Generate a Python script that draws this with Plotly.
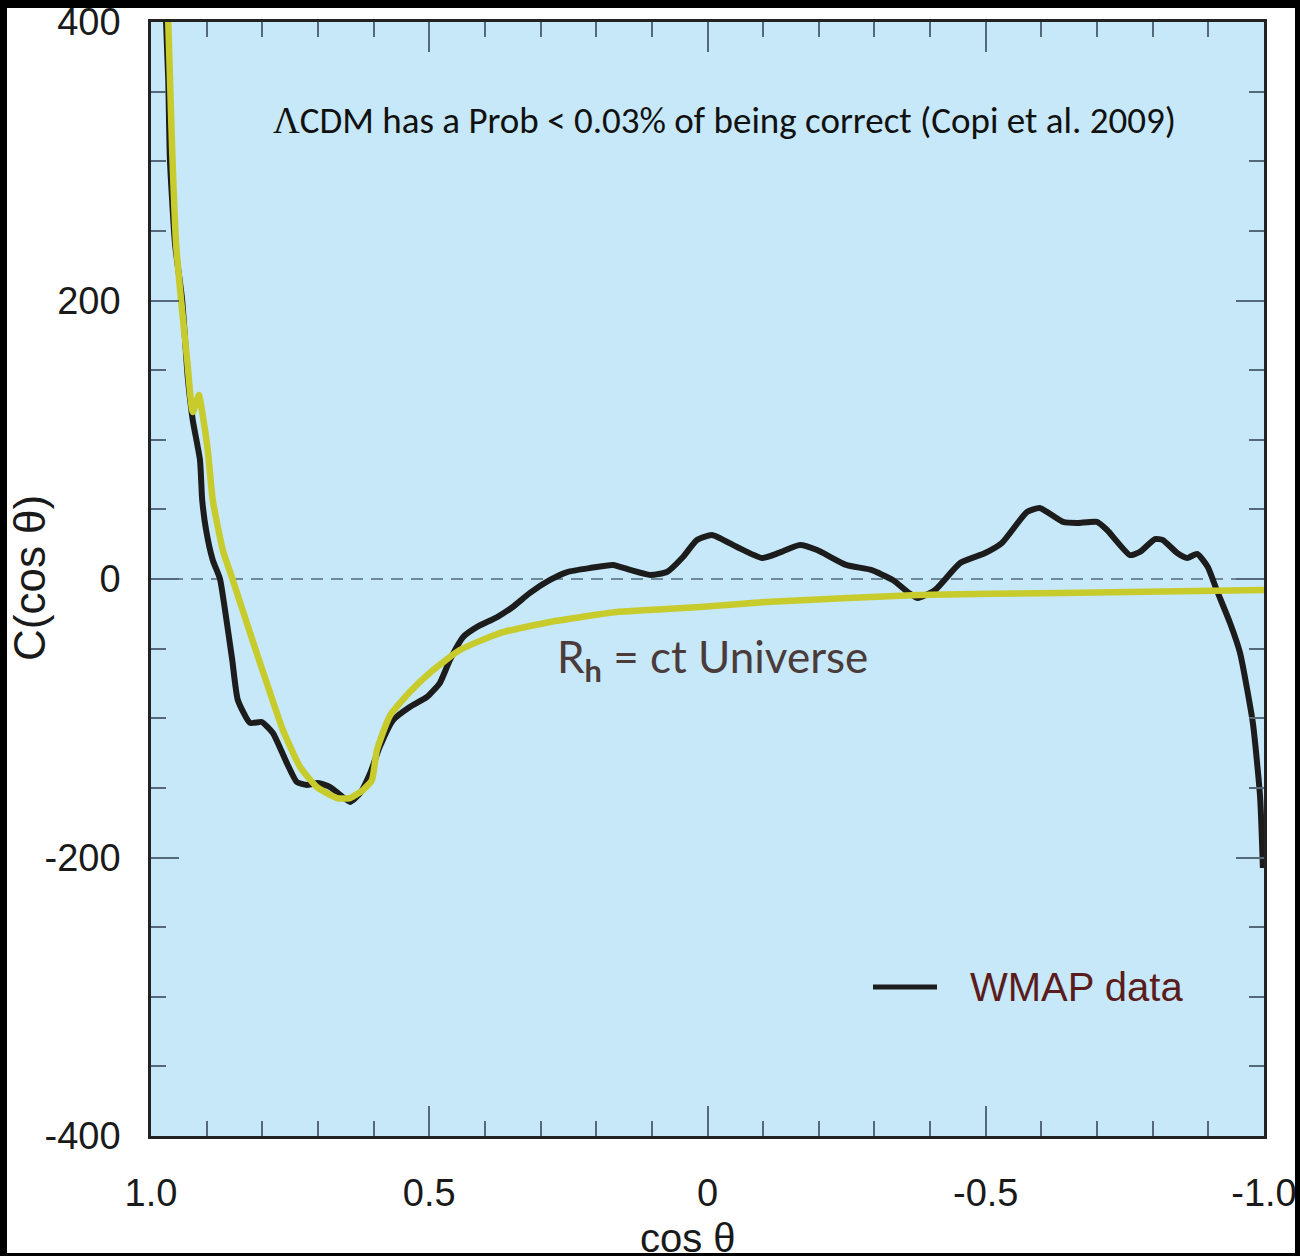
import plotly.graph_objects as go

# ---- data ----
wmap_cos = [0.973, 0.969, 0.966, 0.957, 0.944, 0.934, 0.925, 0.912, 0.908, 0.901,
            0.889, 0.876, 0.867, 0.854, 0.844, 0.822, 0.801, 0.781, 0.756, 0.738,
            0.720, 0.700, 0.678, 0.660, 0.642, 0.624, 0.606, 0.589, 0.565, 0.535,
            0.504, 0.481, 0.463, 0.439, 0.414, 0.378, 0.350, 0.319, 0.283, 0.252,
            0.211, 0.170, 0.139, 0.103, 0.073, 0.044, 0.019, -0.008, -0.053, -0.098,
            -0.128, -0.166, -0.197, -0.249, -0.294, -0.333, -0.362, -0.378, -0.409, -0.454,
            -0.499, -0.529, -0.574, -0.597, -0.639, -0.664, -0.700, -0.718, -0.759, -0.777,
            -0.804, -0.818, -0.844, -0.862, -0.880, -0.899, -0.915, -0.939, -0.957, -0.980,
            -0.993, -0.998]
wmap_c = [400.0, 358.3, 300.9, 241.3, 200.4, 145.1, 114.2, 85.5, 56.7, 35.2,
          13.6, 0.0, -22.3, -58.2, -86.9, -103.4, -102.7, -110.6, -132.1, -145.8,
          -147.9, -146.5, -149.4, -155.1, -160.1, -153.7, -139.3, -120.6, -101.3, -91.9,
          -84.7, -74.7, -58.2, -41.6, -34.4, -27.3, -20.1, -10.0, -0.7, 5.0,
          7.9, 10.1, 6.5, 2.9, 5.0, 15.8, 28.0, 31.6, 23.0, 15.1,
          18.7, 24.4, 20.8, 10.1, 6.5, -0.7, -10.0, -13.6, -7.9, 11.5,
          18.7, 25.9, 48.1, 51.0, 41.0, 40.2, 41.0, 35.2, 17.2, 19.4,
          28.7, 28.0, 18.7, 15.1, 18.0, 8.6, -7.9, -31.6, -53.1, -103.4,
          -156.5, -207.5]

rh_cos = [0.969, 0.962, 0.955, 0.946, 0.935, 0.925, 0.914, 0.908, 0.898, 0.889,
          0.871, 0.853, 0.822, 0.792, 0.763, 0.732, 0.702, 0.666, 0.642, 0.619,
          0.603, 0.594, 0.571, 0.535, 0.493, 0.445, 0.373, 0.283, 0.163, 0.014,
          -0.105, -0.378, -0.635, -1.000]
rh_c = [400.0, 308.1, 241.3, 200.4, 157.3, 119.9, 132.1, 119.9, 92.6, 56.7,
        20.8, -0.7, -38.8, -74.7, -108.4, -135.0, -149.4, -157.3, -157.3, -151.5,
        -144.4, -122.8, -98.4, -81.1, -65.4, -51.0, -38.8, -30.9, -23.7, -20.1,
        -16.5, -11.5, -10.0, -7.9]

x_tickvals = [1.0, 0.5, 0.0, -0.5, -1.0]
x_ticktext = ["1.0", "0.5", "0", "-0.5", "-1.0"]
y_tickvals = [-400, -200, 0, 200, 400]
y_ticktext = ["-400", "-200", "0", "200", "400"]

title_text = ("<span style='font-family:Liberation Serif'>Λ</span>"
              "CDM has a Prob &lt; 0.03% of being correct (Copi et al. 2009)")
model_text = "R<sub><b>h</b></sub> = ct Universe"
legend_text = "WMAP data"

# ---- figure ----
W, H = 1300, 1256
L, R, T, B = 151, 36, 22, 120
pw, ph = W - L - R, H - T - B


def px(xp):
    return (xp - L) / pw


def py(yp):
    return (H - B - yp) / ph


TICKC = "#56697a"
fig = go.Figure()
fig.add_trace(go.Scatter(x=wmap_cos, y=wmap_c, mode="lines", name="WMAP data",
                         line=dict(color="#1c1c1c", width=6, shape="spline", smoothing=0.5),
                         showlegend=False, hoverinfo="skip"))
fig.add_trace(go.Scatter(x=rh_cos, y=rh_c, mode="lines", name="R_h = ct Universe",
                         line=dict(color="#c8cb2c", width=6.5, shape="spline", smoothing=0.5),
                         showlegend=False, hoverinfo="skip"))

fig.update_layout(
    width=W, height=H,
    margin=dict(l=L, r=R, t=T, b=B, pad=0, autoexpand=False),
    paper_bgcolor="white",
    plot_bgcolor="#c6e8f8",
    font=dict(family="Liberation Sans, Arial, sans-serif", color="#1a1a1a"),
    xaxis=dict(range=[1.0, -1.0], tickvals=x_tickvals, ticktext=x_ticktext,
               automargin=False,
               ticks="inside", ticklen=30, tickwidth=1.5, tickcolor=TICKC,
               minor=dict(dtick=0.1, tick0=0, ticks="inside", ticklen=15,
                          tickwidth=1.5, tickcolor=TICKC, showgrid=False),
               showline=True, linecolor="#222222", linewidth=2.5, mirror="ticks",
               showgrid=False, zeroline=False,
               tickfont=dict(size=38, color="#1a1a1a"), ticklabelstandoff=22),
    yaxis=dict(range=[-400, 400], tickvals=y_tickvals, ticktext=y_ticktext,
               automargin=False,
               ticks="inside", ticklen=28, tickwidth=1.5, tickcolor=TICKC,
               minor=dict(dtick=50, tick0=0, ticks="inside", ticklen=15,
                          tickwidth=1.5, tickcolor=TICKC, showgrid=False),
               showline=True, linecolor="#222222", linewidth=2.5, mirror="ticks",
               showgrid=False, zeroline=False,
               tickfont=dict(size=38, color="#1a1a1a"), ticklabelstandoff=20),
)

# dashed zero reference line
fig.add_shape(type="line", xref="x", yref="y", x0=1.0, x1=-1.0, y0=0, y1=0,
              line=dict(color="#6f899b", width=2, dash="12px,8px"), layer="below")

# manual legend sample
fig.add_shape(type="line", xref="paper", yref="paper",
              x0=px(873), x1=px(937), y0=py(987), y1=py(987),
              line=dict(color="#1c1c1c", width=5))

annos = [
    dict(text=title_text, x=px(724), y=py(120), xanchor="center", yanchor="middle",
         font=dict(family="Carlito, Calibri, Lato, sans-serif", size=37, color="#111111")),
    dict(text=model_text, x=px(555), y=py(660), xanchor="left", yanchor="middle",
         font=dict(family="Lato, sans-serif", size=44, color="#4b3b3b")),
    dict(text=legend_text, x=px(968), y=py(987), xanchor="left", yanchor="middle",
         font=dict(family="Liberation Sans, Arial, sans-serif", size=40, color="#5a1c1c")),
    dict(text="C(cos θ)", x=px(29), y=py(578), xanchor="center", yanchor="middle",
         textangle=-90,
         font=dict(family="Liberation Sans Narrow, Liberation Sans, Arial, sans-serif",
                   size=44, color="#1a1a1a")),
    dict(text="cos θ", x=px(688), y=py(1214), xanchor="center", yanchor="top",
         font=dict(family="Liberation Sans, Arial, sans-serif", size=40, color="#1a1a1a")),
]
for a in annos:
    fig.add_annotation(xref="paper", yref="paper", showarrow=False, **a)

# black outer frame of the picture
for (x0, x1, y0, y1) in [(-0.3, px(7), -0.3, 1.3),
                         (px(1295), 1.3, -0.3, 1.3),
                         (-0.3, 1.3, py(8), 1.3),
                         (-0.3, 1.3, -0.3, py(1253))]:
    fig.add_shape(type="rect", xref="paper", yref="paper", x0=x0, x1=x1, y0=y0, y1=y1,
                  fillcolor="black", line=dict(width=0), layer="above")

fig.write_html("out.html")
